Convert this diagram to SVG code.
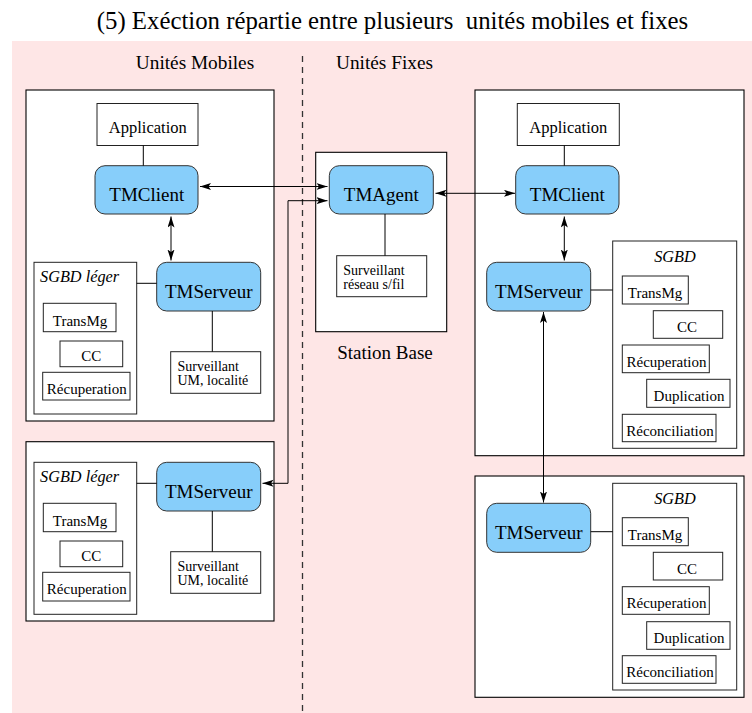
<svg xmlns="http://www.w3.org/2000/svg" width="752" height="713" viewBox="0 0 752 713" font-family="'Liberation Serif', 'DejaVu Serif', serif">
<style>
text{font-family:'Liberation Serif','DejaVu Serif',serif;fill:#000}
.title{font-size:24.8px;white-space:pre}
.hdr{font-size:19.3px}
.panel{fill:#fff;stroke:#000;stroke-width:1.1}
.box{fill:#fff;stroke:#222;stroke-width:1}
.tm{fill:#87cefa;stroke:#333;stroke-width:1}
.tmt{font-size:19px;text-anchor:middle}
.app{font-size:16.5px;text-anchor:middle}
.sm{font-size:15px;text-anchor:middle}
.sv{font-size:14px}
.it{font-size:16.3px;font-style:italic}
.ln{stroke:#000;stroke-width:1;fill:none}
.ar{stroke:#000;stroke-width:1;fill:none;marker-start:url(#ah);marker-end:url(#ah)}
</style>
<defs>
<marker id="ah" markerUnits="userSpaceOnUse" markerWidth="12" markerHeight="8" refX="11" refY="3.5" orient="auto-start-reverse" viewBox="0 0 12 8">
<path d="M0,0 L11,3.5 L0,7 L2.5,3.5 z" fill="#000"/>
</marker>
</defs>
<rect x="12" y="41" width="740" height="672" fill="#fee6e6"/>
<text class="title" x="392.5" y="29" text-anchor="middle">(5) Exéction répartie entre plusieurs  unités mobiles et fixes</text>
<text class="hdr" x="195" y="69" text-anchor="middle">Unités Mobiles</text>
<text class="hdr" x="384.5" y="69" text-anchor="middle">Unités Fixes</text>
<line x1="302.5" y1="56" x2="302.5" y2="713" stroke="#333" stroke-width="1.3" stroke-dasharray="6 5"/>

<g id="mobile1">
<rect class="panel" x="26" y="90" width="248" height="331"/>
<g id="m1-app"><rect class="box" x="97" y="103.5" width="101" height="42"/><text class="app" x="147.8" y="132.7">Application</text></g>
<g id="m1-client"><rect class="tm" x="95" y="165.7" width="103" height="48.3" rx="10"/><text class="tmt" x="146.8" y="201">TMClient</text></g>
<g id="m1-sgbd"><rect class="box" x="34" y="262.3" width="102.7" height="151.7"/><text class="it" x="40" y="282">SGBD léger</text>
<rect class="box" x="43.3" y="303.3" width="72.7" height="28.4"/><text class="sm" x="80" y="325.5">TransMg</text>
<rect class="box" x="60" y="341" width="62.7" height="25.7"/><text class="sm" x="91.3" y="361">CC</text>
<rect class="box" x="42.7" y="372.3" width="87.3" height="27.7"/><text class="sm" x="86.8" y="394">Récuperation</text></g>
<g id="m1-server"><rect class="tm" x="156.7" y="262.3" width="104" height="48.7" rx="10"/><text class="tmt" x="208.7" y="297.7">TMServeur</text></g>
<g id="m1-surv"><rect class="box" x="170.7" y="351.7" width="90" height="41.6"/><text class="sv" x="177.5" y="371">Surveillant</text><text class="sv" x="177.5" y="385.2">UM, localité</text></g>
</g>

<g id="mobile2">
<rect class="panel" x="26" y="441.7" width="248" height="179.3"/>
<g id="m2-sgbd"><rect class="box" x="34" y="462.3" width="102.7" height="152"/><text class="it" x="40" y="482">SGBD léger</text>
<rect class="box" x="43.3" y="503.3" width="72.7" height="28.4"/><text class="sm" x="80" y="525.5">TransMg</text>
<rect class="box" x="60" y="541" width="62.7" height="25.7"/><text class="sm" x="91.3" y="561">CC</text>
<rect class="box" x="42.7" y="572.3" width="87.3" height="28.7"/><text class="sm" x="86.8" y="594">Récuperation</text></g>
<g id="m2-server"><rect class="tm" x="156.7" y="462.3" width="104" height="48.7" rx="10"/><text class="tmt" x="208.7" y="497.7">TMServeur</text></g>
<g id="m2-surv"><rect class="box" x="170.7" y="551.7" width="90" height="41.6"/><text class="sv" x="177.5" y="571">Surveillant</text><text class="sv" x="177.5" y="585.2">UM, localité</text></g>
</g>

<g id="station">
<rect class="panel" x="315.7" y="152.3" width="131" height="179.4"/>
<g id="agent"><rect class="tm" x="329.3" y="165.7" width="104" height="48.3" rx="10"/><text class="tmt" x="381.3" y="201">TMAgent</text></g>
<g id="st-surv"><rect class="box" x="336.7" y="255.7" width="90" height="41"/><text class="sv" x="343.3" y="275.2">Surveillant</text><text class="sv" x="343.3" y="289.4">réseau s/fil</text></g>
<text class="hdr" x="385" y="359" text-anchor="middle" style="font-size:19px">Station Base</text>
</g>

<g id="fixed1">
<rect class="panel" x="475" y="90" width="269" height="365.7"/>
<g id="f1-app"><rect class="box" x="517.3" y="103.5" width="102" height="42"/><text class="app" x="568.3" y="132.7">Application</text></g>
<g id="f1-client"><rect class="tm" x="515.7" y="165.7" width="103.3" height="48.3" rx="10"/><text class="tmt" x="567.3" y="201">TMClient</text></g>
<g id="f1-server"><rect class="tm" x="486.7" y="262.3" width="104" height="48.7" rx="10"/><text class="tmt" x="538.7" y="297.7">TMServeur</text></g>
<g id="f1-sgbd"><rect class="box" x="612.7" y="241" width="124" height="207.3"/><text class="it" x="675" y="261.5" text-anchor="middle">SGBD</text>
<rect class="box" x="622.3" y="276" width="66" height="28"/><text class="sm" x="655" y="298">TransMg</text>
<rect class="box" x="653.3" y="310.7" width="69.4" height="27.6"/><text class="sm" x="687" y="332">CC</text>
<rect class="box" x="622.3" y="345" width="87" height="27.7"/><text class="sm" x="666.5" y="366.5">Récuperation</text>
<rect class="box" x="646.7" y="379.3" width="83.3" height="28"/><text class="sm" x="689" y="401">Duplication</text>
<rect class="box" x="622.3" y="414.3" width="93.7" height="27.4"/><text class="sm" x="670" y="435.5">Réconciliation</text></g>
</g>

<g id="fixed2">
<rect class="panel" x="475" y="476" width="269" height="221.3"/>
<g id="f2-server"><rect class="tm" x="486.7" y="503.3" width="104" height="49" rx="10"/><text class="tmt" x="538.7" y="538.8">TMServeur</text></g>
<g id="f2-sgbd"><rect class="box" x="612.7" y="483.3" width="124" height="206.7"/><text class="it" x="675" y="503.5" text-anchor="middle">SGBD</text>
<rect class="box" x="622.3" y="517.7" width="66" height="28"/><text class="sm" x="655" y="539.5">TransMg</text>
<rect class="box" x="653.3" y="552.3" width="69.4" height="27.7"/><text class="sm" x="687" y="573.8">CC</text>
<rect class="box" x="622.3" y="586.7" width="87" height="27.6"/><text class="sm" x="666.5" y="608">Récuperation</text>
<rect class="box" x="646.7" y="621.7" width="83.3" height="27.6"/><text class="sm" x="689" y="643">Duplication</text>
<rect class="box" x="622.3" y="655.7" width="93.7" height="27.6"/><text class="sm" x="670" y="677">Réconciliation</text></g>
</g>

<g id="connectors">
<line class="ln" x1="143.3" y1="145.5" x2="143.3" y2="165.7"/>
<line class="ln" x1="564.3" y1="145.5" x2="564.3" y2="165.7"/>
<line class="ln" x1="136.7" y1="283.3" x2="156.7" y2="283.3"/>
<line class="ln" x1="136.7" y1="483.3" x2="156.7" y2="483.3"/>
<line class="ln" x1="212.3" y1="311" x2="212.3" y2="351.7"/>
<line class="ln" x1="212.3" y1="511" x2="212.3" y2="551.7"/>
<line class="ln" x1="385" y1="214" x2="385" y2="255.7"/>
<line class="ln" x1="590.7" y1="290" x2="612.7" y2="290"/>
<line class="ln" x1="590.7" y1="531.7" x2="612.7" y2="531.7"/>
<path class="ar" d="M200,186.5 H327.5"/>
<path class="ar" d="M435.5,193.3 H515"/>
<path class="ar" d="M171,216.5 V260.5"/>
<path class="ar" d="M564.3,216.5 V260.5"/>
<path class="ar" d="M262.5,483.3 H288 V200.7 H327.5"/>
<path class="ar" d="M543.5,312 V502.5"/>
</g>
</svg>
